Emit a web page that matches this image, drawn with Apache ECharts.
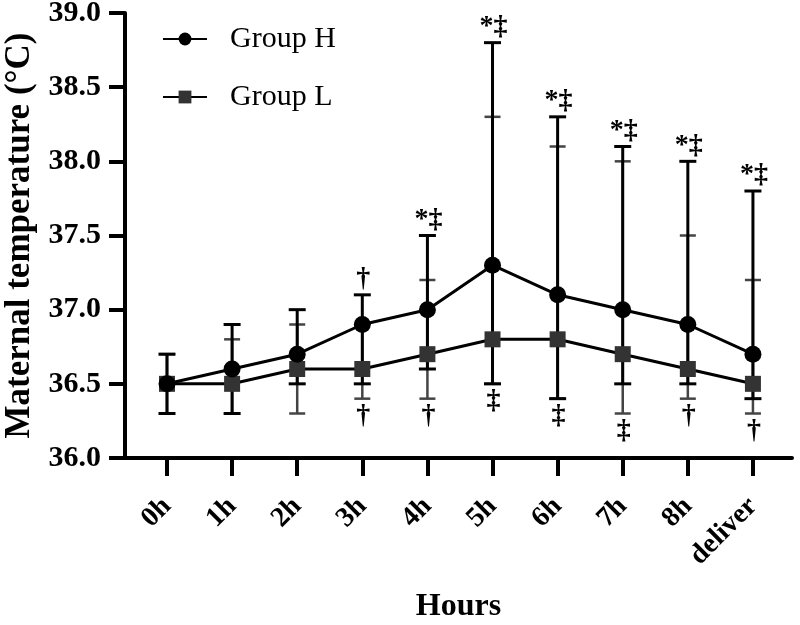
<!DOCTYPE html>
<html><head><meta charset="utf-8">
<script src="https://cdn.jsdelivr.net/npm/echarts@6/dist/echarts.min.js"></script>
<style>html,body{margin:0;padding:0;background:#fff}#c{width:800px;height:625px}</style>
</head><body><div id="c"></div>
<script>
const categories = ['0h','1h','2h','3h','4h','5h','6h','7h','8h','deliver'];
const hMean  = [36.5, 36.6, 36.7, 36.9, 37.0, 37.3, 37.1, 37.0, 36.9, 36.7];
const hUpper = [36.7, 36.9, 37.0, 37.1, 37.5, 38.8, 38.3, 38.1, 38.0, 37.8];
const hLower = [36.3, 36.3, 36.5, 36.5, 36.6, 36.5, 36.4, 36.5, 36.5, 36.4];
const lMean  = [36.5, 36.5, 36.6, 36.6, 36.7, 36.8, 36.8, 36.7, 36.6, 36.5];
const lUpper = [36.7, 36.8, 36.9, 36.9, 37.2, 38.3, 38.1, 38.0, 37.5, 37.2];
const lLower = [36.3, 36.3, 36.3, 36.4, 36.4, 36.5, 36.4, 36.3, 36.4, 36.3];
const annTop    = ['', '', '', '\u2020', '*\u2021', '*\u2021', '*\u2021', '*\u2021', '*\u2021', '*\u2021'];
const annBottom = ['', '', '', '\u2020', '\u2020', '\u2021', '\u2021', '\u2021', '\u2020', '\u2020'];

const FONT = '"Liberation Serif","Times New Roman",serif';
const idx = categories.map((c, i) => i);

function errRender(color, lw, capW) {
  return function (params, api) {
    const x = api.value(0), lo = api.value(1), hi = api.value(2);
    const a = api.coord([x, lo]), b = api.coord([x, hi]);
    const style = { stroke: color, lineWidth: lw };
    return { type: 'group', children: [
      { type: 'line', shape: { x1: a[0], y1: a[1], x2: b[0], y2: b[1] }, style },
      { type: 'line', shape: { x1: a[0] - capW / 2, y1: a[1], x2: a[0] + capW / 2, y2: a[1] }, style },
      { type: 'line', shape: { x1: b[0] - capW / 2, y1: b[1], x2: b[0] + capW / 2, y2: b[1] }, style }
    ]};
  };
}
function annRender(texts, top) {
  return function (params, api) {
    const p = api.coord([api.value(0), api.value(1)]);
    const t = texts[params.dataIndex];
    if (!t) return null;
    return { type: 'text', x: p[0] + 1, y: top ? p[1] - 2 : p[1] + 3,
      style: { text: t, align: 'center', verticalAlign: top ? 'bottom' : 'top',
        fontSize: 28, fontWeight: 'bold', fontFamily: FONT, fill: '#000' } };
  };
}

const chart = echarts.init(document.getElementById('c'), null, { renderer: 'canvas' });
chart.setOption({
  animation: false,
  backgroundColor: '#fff',
  grid: { left: 125, right: 8, top: 13, bottom: 167, containLabel: false, outerBoundsMode: 'none' },
  legend: {
    data: ['Group H', 'Group L'], orient: 'vertical', left: 157, top: 19,
    itemWidth: 44, itemHeight: 16, itemGap: 28,
    textStyle: { fontSize: 30, fontFamily: FONT, color: '#000', padding: [0, 0, 0, 18] }
  },
  xAxis: {
    type: 'value', min: -0.645, max: 9.6, splitLine: { show: false },
    axisLine: { onZero: false, lineStyle: { color: '#000', width: 4 } },
    axisTick: { customValues: idx, length: 18, lineStyle: { color: '#000', width: 4 } },
    axisLabel: { customValues: idx, formatter: v => categories[Math.round(v)], rotate: 45, margin: 44,
      fontSize: 28, fontWeight: 'bold', fontFamily: FONT, color: '#000' },
    name: 'Hours', nameLocation: 'middle', nameGap: 133,
    nameTextStyle: { fontSize: 32, fontWeight: 'bold', fontFamily: FONT, color: '#000' }
  },
  yAxis: {
    type: 'value', min: 36, max: 39, interval: 0.5, splitLine: { show: false },
    axisLine: { show: true, onZero: false, lineStyle: { color: '#000', width: 4 } },
    axisTick: { show: true, length: 16, lineStyle: { color: '#000', width: 4 } },
    axisLabel: { formatter: v => v.toFixed(1), margin: 24, fontSize: 30, fontWeight: 'bold', fontFamily: FONT, color: '#000' },
    name: 'Maternal temperature (\u00B0C)', nameLocation: 'middle', nameGap: 84, nameRotate: 90,
    nameTextStyle: { fontSize: 35, fontWeight: 'bold', fontFamily: FONT, color: '#000' }
  },
  series: [
    { type: 'custom', name: 'errL', renderItem: errRender('#444', 2.5, 16), encode: { x: 0, y: [1, 2] },
      data: idx.map(i => [i, lLower[i], lUpper[i]]), z: 1, silent: true },
    { type: 'custom', name: 'errH', renderItem: errRender('#000', 3, 17), encode: { x: 0, y: [1, 2] },
      data: idx.map(i => [i, hLower[i], hUpper[i]]), z: 1, silent: true },
    { type: 'line', name: 'Group L', data: idx.map(i => [i, lMean[i]]), symbol: 'rect', symbolSize: 16,
      itemStyle: { color: '#333' }, lineStyle: { color: '#000', width: 3 }, z: 3 },
    { type: 'line', name: 'Group H', data: idx.map(i => [i, hMean[i]]), symbol: 'circle', symbolSize: 17,
      itemStyle: { color: '#000' }, lineStyle: { color: '#000', width: 3 }, z: 4 },
    { type: 'custom', name: 'annTop', renderItem: annRender(annTop, true), encode: { x: 0, y: 1 },
      data: idx.map(i => [i, hUpper[i]]), z: 5, silent: true },
    { type: 'custom', name: 'annBottom', renderItem: annRender(annBottom, false), encode: { x: 0, y: 1 },
      data: idx.map(i => [i, Math.min(lLower[i], hLower[i])]), z: 5, silent: true }
  ]
});
</script></body></html>
